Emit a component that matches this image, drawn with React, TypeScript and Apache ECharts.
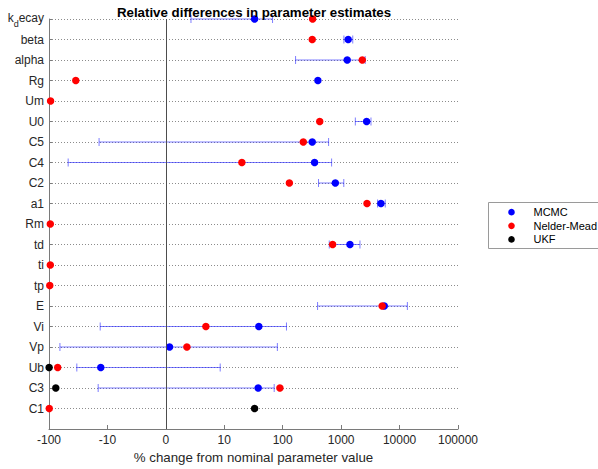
import React, { useEffect, useRef } from "react";
import * as echarts from "echarts";

const params = ["kdecay", "beta", "alpha", "Rg", "Um", "U0", "C5", "C4", "C2", "a1", "Rm", "td", "ti", "tp", "E", "Vi", "Vp", "Ub", "C3", "C1"];
const mcmc: (number | null)[] = [33, 1320, 1270, 400, null, 2730, 320, 351, 795, 4800, null, 1415, null, null, 5470, 39, 0.63, -13, 38, null];
const mcmcLow: (number | null)[] = [4.3, 1115, 166, null, null, 1750, -13.9, -47, 410, 4200, null, 626, null, null, 395, -13.3, -65, -33.4, -14.4, null];
const mcmcHigh: (number | null)[] = [67, 1580, 2580, null, null, 3240, 610, 687, 1110, 5690, null, 2100, null, null, 13600, 116, 81, 9.3, 71.5, null];
const nelderMead: (number | null)[] = [325, 320, 2300, -34.8, -94, 430, 225, 20, 130, 2770, -95, 715, -95, -97, 5040, 6.85, 3.6, -71, 89.5, -99];
const ukf: (number | null)[] = [null, null, null, null, null, null, null, null, null, null, null, null, null, null, null, null, null, -99.5, -76.5, 33];
const xTickLabels = ["-100", "-10", "0", "10", "100", "1000", "10000", "100000"];
const seriesNames = ["MCMC", "Nelder-Mead", "UKF"];
const seriesColors = ["#0000ff", "#ff0000", "#000000"];

const sym = (v: number) => (Math.abs(v) <= 10 ? v / 10 : Math.sign(v) * Math.log10(Math.abs(v)));

const toPoints = (arr: (number | null)[]) =>
  arr.map((v, i) => (v == null ? null : [sym(v), i])).filter((d) => d != null);

export default function App() {
  const ref = useRef<HTMLDivElement>(null);
  useEffect(() => {
    document.body.style.margin = "0";
    const chart = echarts.init(ref.current!, null, { renderer: "svg" });
    const font = "Liberation Sans, Arial, Helvetica, sans-serif";
    const errData = mcmcLow
      .map((lo, i) => (lo == null || mcmcHigh[i] == null ? null : [sym(lo), sym(mcmcHigh[i] as number), i]))
      .filter((d) => d != null);
    const legendX = 488, legendY = 202;
    const option: any = {
      animation: false,
      backgroundColor: "#ffffff",
      title: {
        text: "Relative differences in parameter estimates",
        left: 249,
        textAlign: "center",
        top: 1,
        textStyle: { fontFamily: font, fontSize: 13.3, fontWeight: "bold", color: "#000" },
      },
      grid: { left: 49, right: 140, top: 19, bottom: 35, containLabel: false },
      xAxis: {
        type: "value",
        position: "bottom",
        min: -2,
        max: 5,
        interval: 1,
        name: "% change from nominal parameter value",
        nameLocation: "middle",
        nameGap: 22,
        nameTextStyle: { fontFamily: font, fontSize: 13.3, color: "#262626" },
        axisLine: { show: true, onZero: false, lineStyle: { color: "#7a7a7a", width: 1 } },
        axisTick: { show: true, inside: true, length: 4, lineStyle: { color: "#7a7a7a" } },
        axisLabel: {
          fontFamily: font,
          fontSize: 12,
          color: "#262626",
          margin: 5,
          formatter: (v: number) => xTickLabels[Math.round(v) + 2] ?? "",
        },
        splitLine: { show: false },
      },
      yAxis: {
        type: "value",
        inverse: true,
        min: 0,
        max: 20,
        interval: 1,
        axisLine: { show: true, onZero: false, lineStyle: { color: "#7a7a7a", width: 1 } },
        axisTick: { show: true, inside: true, length: 3, lineStyle: { color: "#7a7a7a" } },
        axisLabel: {
          fontFamily: font,
          fontSize: 12,
          color: "#262626",
          margin: 5,
          formatter: (v: number) => {
            const name = params[Math.round(v)];
            if (name == null) return "";
            if (name === "kdecay") return "{n|k}{s|d}{n|ecay}";
            return name;
          },
          rich: {
            n: { fontFamily: font, fontSize: 12, color: "#262626", padding: [0, 0, 3, 0] },
            s: { fontFamily: font, fontSize: 9, color: "#262626", padding: [9, 0, 0, 0] },
          },
        },
        splitLine: { show: true, lineStyle: { color: "#8c8c8c", type: [1, 2], width: 1 } },
      },
      series: [
        {
          type: "custom",
          name: "MCMC-err",
          data: errData,
          encode: { x: [0, 1], y: 2 },
          z: 1,
          renderItem: (p: any, api: any) => {
            const y = api.value(2);
            const lo = api.coord([api.value(0), y]);
            const hi = api.coord([api.value(1), y]);
            const h = 4;
            const st = { stroke: "rgba(40,40,255,0.6)", lineWidth: 1 };
            return {
              type: "group",
              children: [
                { type: "line", shape: { x1: lo[0], y1: lo[1], x2: hi[0], y2: hi[1] }, style: st },
                { type: "line", shape: { x1: lo[0], y1: lo[1] - h, x2: lo[0], y2: lo[1] + h }, style: st },
                { type: "line", shape: { x1: hi[0], y1: hi[1] - h, x2: hi[0], y2: hi[1] + h }, style: st },
              ],
            };
          },
        },
        {
          type: "line",
          name: "zero",
          data: [],
          markLine: {
            silent: true,
            symbol: "none",
            label: { show: false },
            lineStyle: { color: "#4d4d4d", type: "solid", width: 1 },
            data: [{ xAxis: 0 }],
          },
        },
        ...[mcmc, nelderMead, ukf].map((arr, k) => ({
          type: "scatter",
          name: seriesNames[k],
          data: toPoints(arr),
          symbol: "circle",
          symbolSize: 7.5,
          itemStyle: { color: seriesColors[k], opacity: 1 },
          z: 3 + k,
        })),
      ],
      graphic: [
        {
          type: "group",
          left: legendX,
          top: legendY,
          children: [
            {
              type: "rect",
              shape: { x: 0, y: 0, width: 118, height: 46 },
              style: { fill: "#fff", stroke: "#9a9a9a", lineWidth: 1 },
            },
            ...seriesNames.flatMap((n, k) => [
              { type: "circle", shape: { cx: 23, cy: 9.7 + k * 13.6, r: 3.3 }, style: { fill: seriesColors[k] } },
              {
                type: "text",
                x: 45,
                y: 9.7 + k * 13.6,
                style: { text: n, fontFamily: font, fontSize: 11, fill: "#000", verticalAlign: "middle", align: "left" },
              },
            ]),
          ],
        },
      ],
    };
    chart.setOption(option);
    return () => chart.dispose();
  }, []);
  return <div ref={ref} style={{ width: 598, height: 469 }} />;
}
